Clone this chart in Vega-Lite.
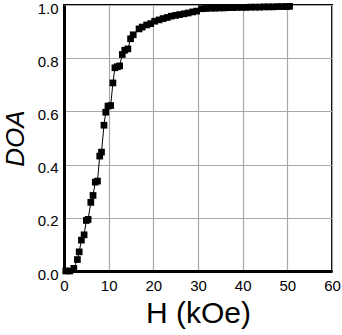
{
  "$schema": "https://vega.github.io/schema/vega-lite/v6.json",
  "autosize": {"type": "none"},
  "padding": {"left": 64, "top": 5, "right": 10, "bottom": 64},
  "width": 268,
  "height": 266,
  "background": "white",
  "config": {
    "font": "Liberation Sans",
    "view": {"stroke": "black", "strokeWidth": 2},
    "axis": {
      "labelFont": "Liberation Sans",
      "labelFontSize": 15,
      "labelColor": "black",
      "ticks": false,
      "domainColor": "black",
      "domainWidth": 3,
      "gridColor": "#a8a8a8",
      "gridWidth": 1.2,
      "gridOpacity": 1,
      "titleFont": "Liberation Sans",
      "titleFontWeight": "normal",
      "titleColor": "black"
    }
  },
  "data": {
    "values": [
      {"H": 0.4, "DOA": 0.0},
      {"H": 1.3, "DOA": 0.0},
      {"H": 2.2, "DOA": 0.01},
      {"H": 3.0, "DOA": 0.043},
      {"H": 3.4, "DOA": 0.072},
      {"H": 3.9, "DOA": 0.116},
      {"H": 4.5, "DOA": 0.136},
      {"H": 5.0, "DOA": 0.19},
      {"H": 5.4, "DOA": 0.194},
      {"H": 6.0, "DOA": 0.258},
      {"H": 6.5, "DOA": 0.284},
      {"H": 7.0, "DOA": 0.334},
      {"H": 7.5, "DOA": 0.338},
      {"H": 8.0, "DOA": 0.432},
      {"H": 8.4, "DOA": 0.447},
      {"H": 8.95, "DOA": 0.548},
      {"H": 9.35, "DOA": 0.597},
      {"H": 9.85, "DOA": 0.62},
      {"H": 10.45, "DOA": 0.622},
      {"H": 10.95, "DOA": 0.707},
      {"H": 11.4, "DOA": 0.764},
      {"H": 11.95, "DOA": 0.768},
      {"H": 12.45, "DOA": 0.771},
      {"H": 13.05, "DOA": 0.814},
      {"H": 13.6, "DOA": 0.83},
      {"H": 14.3, "DOA": 0.835},
      {"H": 14.9, "DOA": 0.873},
      {"H": 15.5, "DOA": 0.888},
      {"H": 16.8, "DOA": 0.91},
      {"H": 17.5, "DOA": 0.917},
      {"H": 18.5, "DOA": 0.925},
      {"H": 19.4, "DOA": 0.93},
      {"H": 20.3, "DOA": 0.939},
      {"H": 21.3, "DOA": 0.944},
      {"H": 22.2, "DOA": 0.949},
      {"H": 23.1, "DOA": 0.953},
      {"H": 24.0, "DOA": 0.958},
      {"H": 25.0, "DOA": 0.961},
      {"H": 25.9, "DOA": 0.964},
      {"H": 26.9, "DOA": 0.967},
      {"H": 27.8, "DOA": 0.97},
      {"H": 28.8, "DOA": 0.974},
      {"H": 29.7, "DOA": 0.977},
      {"H": 30.8, "DOA": 0.986},
      {"H": 31.8, "DOA": 0.987},
      {"H": 32.8, "DOA": 0.988},
      {"H": 33.8, "DOA": 0.988},
      {"H": 34.8, "DOA": 0.989},
      {"H": 35.8, "DOA": 0.989},
      {"H": 36.8, "DOA": 0.99},
      {"H": 37.8, "DOA": 0.99},
      {"H": 38.8, "DOA": 0.991},
      {"H": 39.8, "DOA": 0.991},
      {"H": 40.8, "DOA": 0.991},
      {"H": 41.8, "DOA": 0.992},
      {"H": 42.8, "DOA": 0.992},
      {"H": 43.8, "DOA": 0.992},
      {"H": 44.8, "DOA": 0.993},
      {"H": 45.8, "DOA": 0.993},
      {"H": 46.8, "DOA": 0.993},
      {"H": 47.8, "DOA": 0.994},
      {"H": 48.8, "DOA": 0.994},
      {"H": 49.8, "DOA": 0.994},
      {"H": 50.5, "DOA": 0.995}
    ]
  },
  "encoding": {
    "x": {
      "field": "H", "type": "quantitative",
      "scale": {"domain": [0, 60], "nice": false, "zero": false},
      "axis": {
        "title": "H (kOe)",
        "titleFontSize": 30,
        "titlePadding": 5,
        "values": [0, 10, 20, 30, 40, 50, 60],
        "labelPadding": 7,
        "labelFlush": false
      }
    },
    "y": {
      "field": "DOA", "type": "quantitative",
      "scale": {"domain": [0, 1], "nice": false, "zero": false},
      "axis": {
        "title": "DOA",
        "titleFontSize": 26,
        "titleFontStyle": "italic",
        "titlePadding": 9,
        "values": [0, 0.2, 0.4, 0.6, 0.8, 1.0],
        "format": ".1f",
        "labelPadding": 6,
        "labelOffset": 3,
        "labelFlush": false
      }
    }
  },
  "layer": [
    {"mark": {"type": "line", "color": "black", "strokeWidth": 1, "clip": false}},
    {"mark": {"type": "point", "shape": "square", "filled": true, "color": "black", "opacity": 1, "size": 45, "clip": false}}
  ]
}
